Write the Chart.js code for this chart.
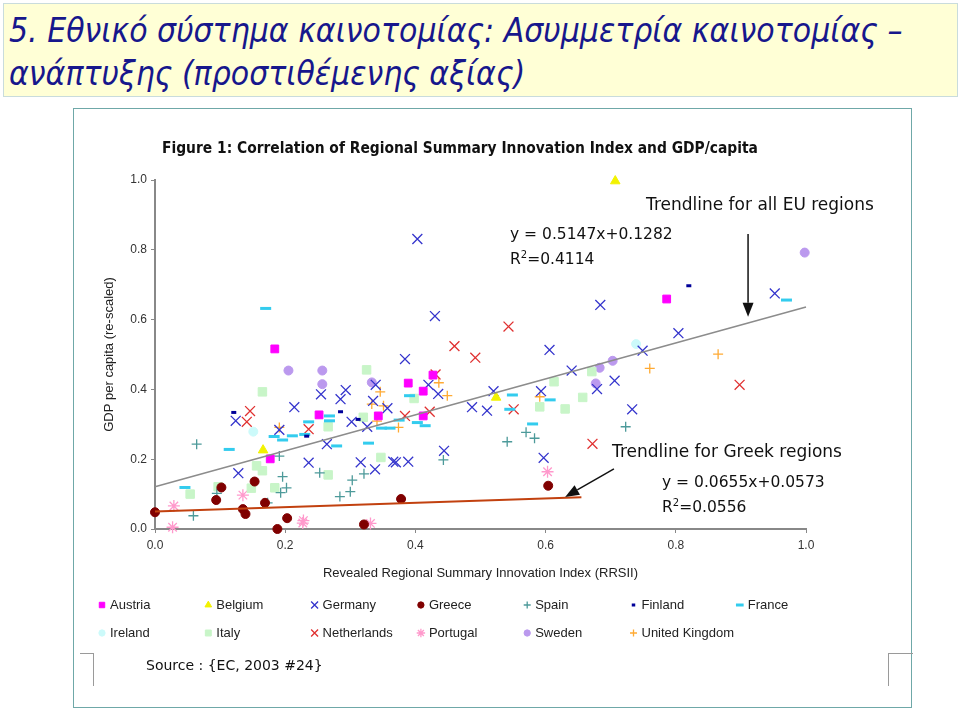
<!DOCTYPE html>
<html>
<head>
<meta charset="utf-8">
<script src="https://cdn.jsdelivr.net/npm/chart.js@4.4.1/dist/chart.umd.min.js"></script>
<style>
  body { margin: 0; background: #ffffff; width: 960px; height: 711px; overflow: hidden; position: relative; }
  #titlebox { position: absolute; left: 3px; top: 3px; width: 953px; height: 92px; background: #ffffd6; border: 1px solid #c9dcdc; }
  #title { position: absolute; left: 9px; top: 9px; font-family: "DejaVu Sans Condensed", "DejaVu Sans", sans-serif; font-style: italic; font-size: 33.4px; line-height: 43px; color: #17178c; white-space: nowrap; }
  #frame { position: absolute; left: 73px; top: 108px; width: 837px; height: 598px; border: 1px solid #6fa8a8; background: #fff; }
  canvas { position: absolute; left: 0; top: 0; }
  .lbl { position: absolute; white-space: nowrap; color: #111; font-family: "DejaVu Sans", sans-serif; }
  #figtitle { left: 162px; top: 137px; font-family: "DejaVu Sans Condensed", "DejaVu Sans", sans-serif; font-weight: bold; font-size: 15.4px; line-height: 22px; }
  .brk { position: absolute; border-color: #9a9a9a; border-style: solid; border-width: 0; }
</style>
</head>
<body>
<div id="titlebox"></div>
<div id="title">5. Εθνικό σύστημα καινοτομίας: Ασυμμετρία καινοτομίας –<br>ανάπτυξης (προστιθέμενης αξίας)</div>
<div id="frame"></div>
<div class="brk" style="left:80px;top:653px;width:13px;height:32px;border-top-width:1px;border-right-width:1px;"></div>
<div class="brk" style="left:888px;top:653px;width:24px;height:32px;border-top-width:1px;border-left-width:1px;"></div>
<canvas id="c" width="960" height="711"></canvas>
<div class="lbl" id="figtitle">Figure 1: Correlation of Regional Summary Innovation Index and GDP/capita</div>
<div class="lbl" style="left:646px;top:193px;font-size:17px;line-height:22px;">Trendline for all EU regions</div>
<div class="lbl" style="left:510px;top:224px;font-size:15.5px;line-height:20px;">y = 0.5147x+0.1282</div>
<div class="lbl" style="left:510px;top:249px;font-size:15.5px;line-height:20px;">R<sup style="font-size:10px;line-height:0">2</sup>=0.4114</div>
<div class="lbl" style="left:612px;top:440px;font-size:17px;line-height:22px;">Trendline for Greek regions</div>
<div class="lbl" style="left:662px;top:472px;font-size:15.5px;line-height:20px;">y = 0.0655x+0.0573</div>
<div class="lbl" style="left:662px;top:497px;font-size:15.5px;line-height:20px;">R<sup style="font-size:10px;line-height:0">2</sup>=0.0556</div>
<div class="lbl" style="left:146px;top:655px;font-size:14px;line-height:20px;">Source : {EC, 2003 #24}</div>
<script>
// values: [RRSII, GDP per capita]
const austria = [[0.184,0.516],[0.177,0.201],[0.252,0.327],[0.343,0.324],[0.427,0.441],[0.389,0.418],[0.412,0.395],[0.412,0.324],[0.786,0.659]];
const belgium = [[0.707,0.997],[0.166,0.226],[0.524,0.377]];
const germany = [[0.403,0.831],[0.430,0.610],[0.384,0.487],[0.606,0.513],[0.684,0.642],[0.804,0.561],[0.952,0.675],[0.749,0.511],[0.679,0.401],[0.706,0.425],[0.733,0.343],[0.640,0.454],[0.420,0.413],[0.435,0.387],[0.520,0.395],[0.593,0.395],[0.487,0.349],[0.510,0.339],[0.357,0.346],[0.444,0.224],[0.366,0.193],[0.370,0.191],[0.389,0.193],[0.597,0.204],[0.124,0.310],[0.128,0.160],[0.214,0.349],[0.255,0.386],[0.285,0.372],[0.293,0.398],[0.339,0.413],[0.335,0.367],[0.302,0.307],[0.326,0.293],[0.264,0.243],[0.191,0.284],[0.236,0.190],[0.316,0.191],[0.338,0.171]];
const greece = [[0.0,0.048],[0.094,0.083],[0.102,0.119],[0.135,0.057],[0.139,0.043],[0.153,0.136],[0.169,0.075],[0.188,0.0],[0.203,0.031],[0.321,0.013],[0.378,0.086],[0.604,0.124]];
const spain = [[0.064,0.243],[0.059,0.038],[0.095,0.102],[0.191,0.209],[0.196,0.150],[0.193,0.104],[0.202,0.118],[0.173,0.075],[0.253,0.161],[0.284,0.093],[0.300,0.107],[0.303,0.140],[0.321,0.158],[0.443,0.198],[0.541,0.250],[0.570,0.277],[0.583,0.260],[0.723,0.293]];
const finland = [[0.121,0.334],[0.285,0.336],[0.233,0.266],[0.312,0.314],[0.820,0.697]];
const france = [[0.170,0.632],[0.970,0.656],[0.046,0.119],[0.114,0.228],[0.183,0.265],[0.196,0.255],[0.211,0.267],[0.230,0.271],[0.236,0.307],[0.268,0.324],[0.268,0.310],[0.279,0.238],[0.328,0.246],[0.348,0.289],[0.361,0.289],[0.375,0.312],[0.403,0.305],[0.415,0.296],[0.391,0.382],[0.549,0.384],[0.607,0.370],[0.580,0.301],[0.545,0.343]];
const ireland = [[0.739,0.530],[0.151,0.279]];
const italy = [[0.165,0.393],[0.054,0.100],[0.097,0.121],[0.148,0.117],[0.156,0.181],[0.165,0.167],[0.184,0.118],[0.266,0.155],[0.325,0.456],[0.266,0.293],[0.320,0.320],[0.347,0.205],[0.398,0.374],[0.591,0.350],[0.630,0.344],[0.657,0.377],[0.613,0.422],[0.671,0.451]];
const netherlands = [[0.146,0.338],[0.141,0.307],[0.236,0.286],[0.543,0.580],[0.460,0.524],[0.492,0.491],[0.431,0.443],[0.384,0.324],[0.422,0.336],[0.551,0.343],[0.672,0.244],[0.898,0.413]];
const portugal = [[0.029,0.066],[0.027,0.005],[0.135,0.097],[0.228,0.024],[0.227,0.017],[0.331,0.016],[0.603,0.164]];
const sweden = [[0.205,0.454],[0.257,0.454],[0.257,0.415],[0.333,0.420],[0.683,0.462],[0.703,0.482],[0.677,0.417],[0.998,0.792]];
const uk = [[0.346,0.393],[0.333,0.358],[0.351,0.353],[0.341,0.309],[0.374,0.291],[0.191,0.291],[0.436,0.419],[0.449,0.382],[0.591,0.379],[0.865,0.501],[0.760,0.460]];

const euTrend = [[0.0,0.121],[1.0,0.636]];
const greekTrend = [[0.0,0.050],[0.655,0.091]];

const axisTicks = [0, 0.2, 0.4, 0.6, 0.8, 1.0];

function pts(arr) {
    return arr.map(p => ({x: p[0], y: p[1]}));
}

function series(label, arr, style, color, radius, bw) {
    return {
        label: label,
        data: pts(arr),
        pointStyle: style,
        pointRadius: radius,
        pointBorderWidth: bw,
        backgroundColor: color,
        borderColor: color,
        showLine: false
    };
}

const datasets = [
    series('Austria', austria, 'rect', '#ff00ff', 5.5, 1),
    series('Belgium', belgium, 'triangle', '#f2f200', 5.5, 1),
    series('Germany', germany, 'crossRot', '#3333cc', 7, 1.3),
    series('Greece', greece, 'circle', '#800000', 4.5, 1),
    series('Spain', spain, 'cross', '#4d9a9a', 5, 1.3),
    series('Finland', finland, 'line', '#000099', 2.5, 3),
    series('France', france, 'line', '#33ccee', 5.5, 3),
    series('Ireland', ireland, 'circle', '#ccfafa', 4.5, 1),
    series('Italy', italy, 'rect', '#c8f5c8', 6, 1),
    series('Netherlands', netherlands, 'crossRot', '#e03030', 7, 1.3),
    series('Portugal', portugal, 'star', '#ff99cc', 6, 1.3),
    series('Sweden', sweden, 'circle', '#bb99ee', 4.5, 1),
    series('United Kingdom', uk, 'cross', '#ffaa33', 5, 1.3)
];
const nSeries = datasets.length;

datasets.push({
    label: 'trend EU', data: pts(euTrend), showLine: true, pointRadius: 0,
    borderColor: '#8c8c8c', borderWidth: 1.5, order: -1
});
datasets.push({
    label: 'trend GR', data: pts(greekTrend), showLine: true, pointRadius: 0,
    borderColor: '#c2410f', borderWidth: 2, order: -1
});

const tickFont = {family: 'Liberation Sans, Arial, sans-serif', size: 12};
const titleFont = {family: 'Liberation Sans, Arial, sans-serif', size: 13};

// legend laid out as a 7-column grid like the original
const gridLegend = {
    id: 'gridLegend',
    afterDraw(chart) {
        const ctx = chart.ctx;
        ctx.save();
        for (let i = 0; i < nSeries; i++) {
            const ds = chart.data.datasets[i];
            const col = i % 7, row = Math.floor(i / 7);
            const x = 102 + col * 106.3, y = 605 + row * 28;
            ctx.fillStyle = ds.backgroundColor;
            ctx.strokeStyle = ds.borderColor;
            ctx.lineWidth = ds.pointBorderWidth;
            Chart.helpers.drawPoint(ctx, {
                pointStyle: ds.pointStyle,
                radius: ds.pointRadius * 0.7,
                rotation: 0,
                borderWidth: ds.pointBorderWidth
            }, x, y);
            ctx.fillStyle = '#222';
            ctx.font = '13px Liberation Sans, Arial, sans-serif';
            ctx.textAlign = 'left';
            ctx.textBaseline = 'middle';
            ctx.fillText(ds.label, x + 8, y);
        }
        ctx.restore();
    }
};

function arrow(ctx, x1, y1, x2, y2) {
    const a = Math.atan2(y2 - y1, x2 - x1);
    const len = 14, half = 5.5;
    ctx.beginPath();
    ctx.moveTo(x1, y1);
    ctx.lineTo(x2 - Math.cos(a) * len, y2 - Math.sin(a) * len);
    ctx.stroke();
    ctx.beginPath();
    ctx.moveTo(x2, y2);
    ctx.lineTo(x2 - Math.cos(a) * len + Math.sin(a) * half, y2 - Math.sin(a) * len - Math.cos(a) * half);
    ctx.lineTo(x2 - Math.cos(a) * len - Math.sin(a) * half, y2 - Math.sin(a) * len + Math.cos(a) * half);
    ctx.closePath();
    ctx.fill();
}

const arrows = {
    id: 'arrows',
    afterDraw(chart) {
        const ctx = chart.ctx, xs = chart.scales.x, ys = chart.scales.y;
        ctx.save();
        ctx.strokeStyle = '#111';
        ctx.fillStyle = '#111';
        ctx.lineWidth = 1.5;
        arrow(ctx, xs.getPixelForValue(0.911), ys.getPixelForValue(0.845), xs.getPixelForValue(0.911), ys.getPixelForValue(0.608));
        arrow(ctx, xs.getPixelForValue(0.705), ys.getPixelForValue(0.172), xs.getPixelForValue(0.630), ys.getPixelForValue(0.092));
        ctx.restore();
    }
};

let ctx = document.getElementById('c').getContext('2d');
new Chart(ctx, {
    type: 'scatter',
    data: {datasets: datasets},
    options: {
        responsive: false,
        animation: false,
        layout: {padding: {left: 98, top: 180, right: 154, bottom: 126}},
        plugins: {legend: {display: false}, tooltip: {enabled: false}},
        elements: {point: {hoverRadius: 0}},
        clip: false,
        scales: {
            x: {
                type: 'linear', min: 0, max: 1,
                afterBuildTicks(s) { s.ticks = axisTicks.map(v => ({value: v})); },
                afterFit(s) { s.height = 56; },
                ticks: {callback: v => v.toFixed(1), font: tickFont, color: '#333', padding: 5, maxRotation: 0},
                grid: {drawOnChartArea: false, tickLength: 4, color: '#888'},
                border: {color: '#888', width: 2},
                title: {display: true, text: 'Revealed Regional Summary Innovation Index (RRSII)', font: titleFont, color: '#222', padding: 4}
            },
            y: {
                type: 'linear', min: 0, max: 1,
                afterBuildTicks(s) { s.ticks = axisTicks.map(v => ({value: v})); },
                afterFit(s) { s.width = 57; },
                ticks: {callback: v => v.toFixed(1), font: tickFont, color: '#333', padding: 4},
                grid: {drawOnChartArea: false, tickLength: 4, color: '#888'},
                border: {color: '#888', width: 2},
                title: {display: true, text: 'GDP per capita (re-scaled)', font: titleFont, color: '#222', padding: 4}
            }
        }
    },
    plugins: [gridLegend, arrows]
});
</script>
</body>
</html>
